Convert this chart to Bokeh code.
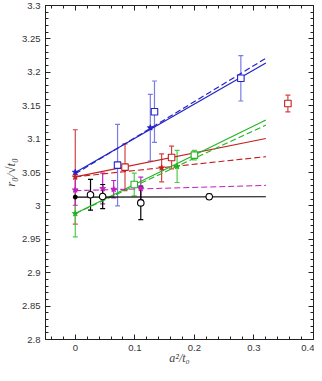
from bokeh.plotting import figure
from bokeh.models import (ColumnDataSource, Whisker, TeeHead, LinearAxis, FixedTicker,
                          CustomJSTickFormatter)
from bokeh.embed import file_html
from bokeh.resources import INLINE

# ---------------- data ----------------
x_ticks = [0.0, 0.1, 0.2, 0.3, 0.4]
x_tick_labels = ["0", "0.1", "0.2", "0.3", "0.4"]
y_ticks = [2.8, 2.85, 2.9, 2.95, 3.0, 3.05, 3.1, 3.15, 3.2, 3.25, 3.3]
y_tick_labels = ["2.8", "2.85", "2.9", "2.95", "3", "3.05", "3.1", "3.15", "3.2", "3.25", "3.3"]

# blue
blue_sq_x = [0.071, 0.133, 0.278]
blue_sq_y = [3.061, 3.141, 3.191]
blue_sq_e = [0.061, 0.046, 0.034]
blue_st_x = [0.0, 0.126, 0.278]
blue_st_y = [3.0504, 3.117, 3.192]
blue_st_e = [0.0, 0.05, 0.0]
blue_fit_x = [0.0, 0.32]
blue_fit_y = [3.050, 3.214]
blue_fit2_y = [3.048, 3.221]

# red
red_sq_x = [0.0835, 0.1617, 0.357]
red_sq_y = [3.058, 3.0725, 3.1532]
red_sq_e = [0.035, 0.017, 0.0125]
red_st_x = [0.0, 0.145]
red_st_y = [3.0433, 3.057]
red_st_e = [0.0707, 0.021]
red_fit_x = [0.0, 0.32]
red_fit_y = [3.0435, 3.101]
red_fit2_y = [3.0435, 3.0737]

# green
green_sq_x = [0.099, 0.2]
green_sq_y = [3.032, 3.076]
green_sq_e = [0.017, 0.007]
green_st_x = [0.0, 0.171]
green_st_y = [2.9885, 3.059]
green_st_e = [0.035, 0.024]
green_fit_x = [0.0, 0.32]
green_fit_y = [2.9885, 3.1285]
green_fit2_y = [2.9885, 3.121]

# magenta
mag_x = [0.0, 0.046, 0.0645, 0.11]
mag_y = [3.024, 3.026, 3.025, 3.026]
mag_e = [0.023, 0.023, 0.013, 0.017]
mag_fit_x = [0.0, 0.32]
mag_fit_y = [3.0228, 3.0307]

# black
blk_x = [0.0256, 0.046, 0.11, 0.225]
blk_y = [3.0166, 3.014, 3.0045, 3.0137]
blk_e = [0.023, 0.018, 0.025, 0.004]
blk_st_x = [0.0]
blk_st_y = [3.0132]
blk_fit_x = [0.0, 0.32]
blk_fit_y = [3.0132, 3.0137]

BLUE = "#2222c8"
BLUE_E = "#7b7be8"
RED = "#c41e1e"
RED_E = "#d04444"
GREEN = "#22b422"
GREEN_E = "#4ccc4c"
MAG = "#c020c0"
BLACK = "#000000"

p = figure(frame_width=268, frame_height=334, x_range=(-0.05, 0.4), y_range=(2.8, 3.3),
           output_backend="svg", toolbar_location=None,
           min_border_top=5, min_border_right=1, min_border_left=1, min_border_bottom=1)
p.xgrid.visible = False
p.ygrid.visible = False
p.outline_line_color = "#222222"
p.outline_line_width = 1
p.background_fill_color = "white"
p.border_fill_color = "white"

LABEL_FONT = "Liberation Sans"
minor_x = [round(-0.04 + 0.02 * i, 4) for i in range(23)]
minor_y = [round(2.8 + 0.01 * i, 4) for i in range(51)]

def style_axis(ax):
    ax.major_tick_in = 5
    ax.major_tick_out = 0
    ax.minor_tick_in = 3
    ax.minor_tick_out = 0
    ax.axis_line_color = "#222222"
    ax.major_tick_line_color = "#222222"
    ax.minor_tick_line_color = "#222222"
    ax.major_label_text_font = LABEL_FONT
    ax.major_label_text_font_size = "9.5px"
    ax.major_label_text_color = "#333333"

xa = p.xaxis[0]
xa.ticker = FixedTicker(ticks=x_ticks, minor_ticks=minor_x)
xa.major_label_overrides = dict(zip(x_ticks, x_tick_labels))
style_axis(xa)
xa.major_label_standoff = 5
xa.axis_label = "a²/t₀"
xa.axis_label_text_font = "Liberation Serif"
xa.axis_label_text_font_style = "italic"
xa.axis_label_text_font_size = "12px"
xa.axis_label_standoff = -3

ya = p.yaxis[0]
ya.ticker = FixedTicker(ticks=y_ticks, minor_ticks=minor_y)
ya.major_label_overrides = dict(zip(y_ticks, y_tick_labels))
style_axis(ya)
ya.major_label_standoff = 5
ya.axis_label = "r₀/√t₀"
ya.axis_label_text_font = "Liberation Serif"
ya.axis_label_text_font_style = "italic"
ya.axis_label_text_font_size = "13px"
ya.axis_label_standoff = 1

blank = CustomJSTickFormatter(code="return ''")
top = LinearAxis(ticker=FixedTicker(ticks=x_ticks, minor_ticks=minor_x), formatter=blank)
style_axis(top)
top.major_label_standoff = 0
top.major_label_text_font_size = "0px"
p.add_layout(top, "above")
right = LinearAxis(ticker=FixedTicker(ticks=y_ticks, minor_ticks=minor_y), formatter=blank)
style_axis(right)
right.major_label_standoff = 0
right.major_label_text_font_size = "0px"
p.add_layout(right, "right")

# fit lines
p.line(blue_fit_x, blue_fit_y, color=BLUE, line_width=1.2)
p.line(blue_fit_x, blue_fit2_y, color=BLUE, line_width=1.2, line_dash="6 3")
p.line(red_fit_x, red_fit_y, color=RED, line_width=1.1)
p.line(red_fit_x, red_fit2_y, color=RED, line_width=1.1, line_dash="6 3")
p.line(green_fit_x, green_fit_y, color=GREEN, line_width=1.1)
p.line(green_fit_x, green_fit2_y, color=GREEN, line_width=1.1, line_dash="6 3")
p.line(mag_fit_x, mag_fit_y, color=MAG, line_width=1.1, line_dash="6 3")
p.line(blk_fit_x, blk_fit_y, color=BLACK, line_width=1.1)

def errbars(xs, ys, es, color):
    src = ColumnDataSource(dict(x=xs, lo=[y - e for y, e in zip(ys, es)],
                                hi=[y + e for y, e in zip(ys, es)]))
    w = Whisker(base="x", upper="hi", lower="lo", source=src,
                line_color=color, line_width=1.2,
                upper_head=TeeHead(size=5, line_color=color, line_width=1.2),
                lower_head=TeeHead(size=5, line_color=color, line_width=1.2))
    p.add_layout(w)

errbars(blue_sq_x, blue_sq_y, blue_sq_e, BLUE_E)
errbars(blue_st_x[1:2], blue_st_y[1:2], blue_st_e[1:2], BLUE_E)
errbars(red_sq_x, red_sq_y, red_sq_e, RED_E)
errbars(red_st_x, red_st_y, red_st_e, RED_E)
errbars(green_sq_x, green_sq_y, green_sq_e, GREEN_E)
errbars(green_st_x, green_st_y, green_st_e, GREEN_E)
errbars(mag_x, mag_y, mag_e, MAG)
errbars(blk_x, blk_y, blk_e, BLACK)

# markers
p.scatter(blue_st_x, blue_st_y, marker="star", size=6, color=BLUE)
p.scatter(red_st_x, red_st_y, marker="star", size=6, color=RED)
p.scatter(green_st_x, green_st_y, marker="star", size=6, color=GREEN)
p.scatter(mag_x, mag_y, marker="star", size=6, color=MAG)
p.scatter(blk_st_x, blk_st_y, marker="circle", size=4, color=BLACK)
p.scatter(blue_sq_x, blue_sq_y, marker="square", size=6.5, line_color=BLUE, fill_color="white", line_width=1.1)
p.scatter(red_sq_x, red_sq_y, marker="square", size=6.5, line_color=RED, fill_color="white", line_width=1.1)
p.scatter(green_sq_x, green_sq_y, marker="square", size=6.5, line_color=GREEN, fill_color="white", line_width=1.1)
p.scatter(blk_x, blk_y, marker="circle", size=6.5, line_color=BLACK, fill_color="white", line_width=1.1)

open("out.html", "w").write(file_html(p, INLINE))
